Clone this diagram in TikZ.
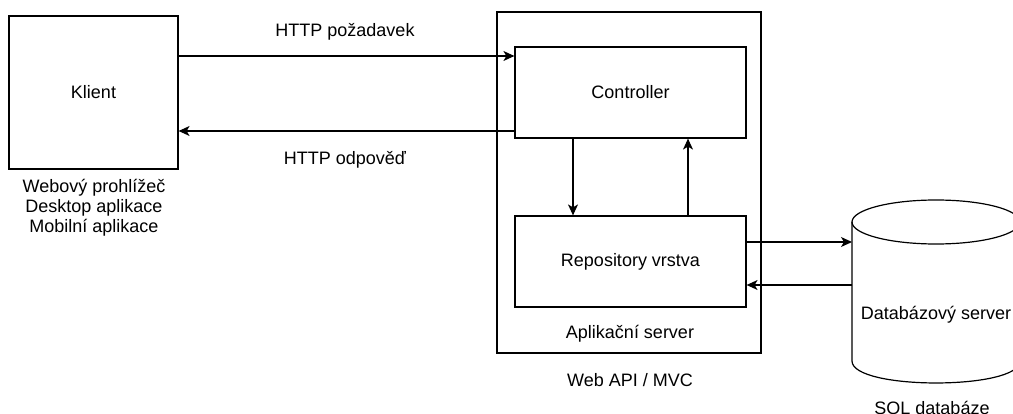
\documentclass[tikz,border=0pt]{standalone}
\usepackage{fontspec}
\setmainfont{Liberation Sans}
\usetikzlibrary{arrows.meta}
\tikzset{
  box/.style={draw, line width=1.2pt, inner sep=0pt, font=\fontsize{18}{20}\selectfont},
  lbl/.style={font=\fontsize{18}{20}\selectfont, align=center, inner sep=0pt},
  arr/.style={-{Stealth[length=11pt,width=10pt,inset=3pt]}, line width=1.2pt},
  cyl/.style={line width=1.2pt}
}
\begin{document}
\begin{tikzpicture}[x=1pt,y=-1pt]
\useasboundingbox (0,0) rectangle (1013,414);
% client
\node[box, minimum width=169pt, minimum height=153pt] (klient) at (93.5,92.5) {Klient};
\node[lbl] (clientsub) at (94,208) {Webový prohlížeč\\Desktop aplikace\\Mobilní aplikace};
% server
\node[box, minimum width=264pt, minimum height=341pt] (server) at (629,182.5) {};
\node[box, minimum width=231pt, minimum height=91pt] (ctrl) at (630.5,92.5) {Controller};
\node[box, minimum width=231pt, minimum height=91pt] (repo) at (630.5,261.5) {Repository vrstva};
\node[lbl] (aplik) at (630,334) {Aplikační server};
\node[lbl] (webapi) at (630,380) {Web API / MVC};
% HTTP labels
\node[lbl] (req) at (345,32) {HTTP požadavek};
\node[lbl] (resp) at (345,160) {HTTP odpověď};
% database cylinder
\begin{scope}
\clip (0,0) rectangle (1013,414);
\draw[cyl] (936,222) ellipse [x radius=84, y radius=22];
\draw[cyl] (852,222) -- (852,361) .. controls (852,390.3) and (1020,390.3) .. (1020,361) -- (1020,222);
\end{scope}
\node[lbl] (db) at (936,315) {Databázový server};
\node[lbl] (sql) at (932,410) {SQL databáze};
\coordinate (dbin) at (852,242);
\coordinate (dbout) at (852,285);
% connectors
\draw[arr] (klient.east |- 0,56) -- (ctrl.west |- 0,56);
\draw[arr] (ctrl.west |- 0,131) -- (klient.east |- 0,131);
\draw[arr] ([xshift=-57.5pt]ctrl.south) -- ([xshift=-57.5pt]repo.north);
\draw[arr] ([xshift=57.5pt]repo.north) -- ([xshift=57.5pt]ctrl.south);
\draw[arr] ([yshift=19.5pt]repo.east) -- (dbin);
\draw[arr] (dbout) -- ([yshift=-23.5pt]repo.east);
\end{tikzpicture}
\end{document}
